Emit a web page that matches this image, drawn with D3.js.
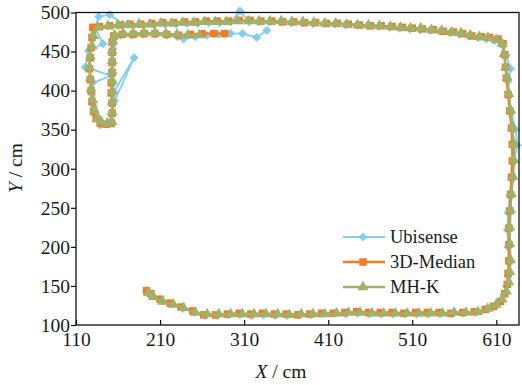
<!DOCTYPE html>
<html>
<head>
<meta charset="utf-8">
<script src="https://cdn.jsdelivr.net/npm/d3@7"></script>
<style>
  body { margin: 0; background: #fff; }
  svg { font-family: "Liberation Serif", "Times New Roman", serif; }
</style>
</head>
<body>
<svg width="522" height="385"></svg>
<script>
const xTicks = [110, 210, 310, 410, 510, 610];
const yTicks = [100, 150, 200, 250, 300, 350, 400, 450, 500];
const seriesNames = ['Ubisense', '3D-Median', 'MH-K'];

// Ubisense raw positions [x, y] in cm
const ubisense = [
    [195,143],[200,138],[212,131],[224,127],[237,121],[251,116],[264,112],[278,112],[291,113],[305,113],
    [319,112],[333,113],[347,112],[361,112],[375,113],[389,113],[403,114],[417,115],[431,114],[445,115],
    [459,114],[473,114],[487,114],[501,114],[515,114],[529,114],[543,114],[557,114],[571,115],[585,116],
    [597,120],[606,123],[614,130],[619,139],[622,150],
    [624,163],[625,180],[624,200],[623,222],[624,244],[626,266],[628,288],[631,310],[635,330],[633,350],
    [628,372],[625,393],[624,412],[627,428],[622,445],[616,460],
    [608,464],[598,466],[588,468],[577,470],[566,472],[555,474],[543,476],[531,477],[519,478],[507,479],
    [495,480],[483,481],[470,482],[457,483],[444,484],[431,484],[418,485],[405,486],[392,486],[379,487],
    [366,487],[353,488],[340,488],[327,488],[316,488],[305,502],[294,488],[281,487],[268,487],[255,486],
    [242,486],[229,485],[216,485],[203,484],[190,484],[178,483],[166,485],[150,497],[137,495],[133,480],
    [142,460],[125,451],[121,430],[152,419],[130,410],[129,395],[131,380],[136,366],[139,356],[147,357],
    [152,362],[156,387],[179,442],[155,398],[154,412],[153,426],[153,440],[154,454],[155,466],
    [163,471],[176,471],[190,472],[204,472],[218,471],[231,469],[238,466],[252,469],[266,471],[280,472],
    [294,473],[308,473],[325,468],[337,477]
];

// 3D-Median
const median3d = [
    [194,144],[199,140],[210,133],[222,128],[235,123],[249,118],[262,113],[276,113],[290,114],[304,115],
    [318,114],[332,115],[346,114],[360,114],[374,113],[388,114],[402,115],[416,115],[430,116],[444,117],
    [458,116],[472,116],[486,116],[500,115],[514,116],[528,116],[542,116],[556,115],[570,116],[584,117],
    [597,120],[607,124],[615,130],[620,140],[623,152],
    [624,166],[625,182],[625,203],[625,224],[626,246],[627,267],[628,289],[629,310],[629,331],[628,352],
    [626,374],[624,395],[622,416],[621,430],[620,446],[618,460],
    [612,466],[602,468],[592,469],[581,470],[570,473],[559,475],[547,476],[535,478],[522,479],[510,480],
    [498,481],[486,482],[473,483],[460,483],[447,484],[434,485],[421,486],[408,486],[395,487],[382,487],
    [369,488],[356,488],[343,489],[330,489],[317,490],[304,490],[291,489],[278,489],[265,489],[252,488],
    [239,488],[226,487],[213,487],[200,486],[187,485],[174,485],[162,484],[150,483],[138,482],[130,481],
    [129,468],[128,455],[127,442],[126,428],[127,414],[128,400],[129,386],[131,373],[134,364],[139,358],
    [146,357],[152,358],
    [153,371],[153,384],[152,397],[152,410],[153,423],[153,436],[153,449],[153,462],[155,470],
    [165,472],[178,472],[191,473],[204,473],[218,472],[232,471],[246,472],[260,473],[274,473],[287,473]
];

// MH-K
const mhk = [
    [196,141],[202,136],[213,130],[226,126],[238,122],[252,116],[266,114],[280,114],[294,114],[308,114],
    [322,114],[336,114],[350,114],[364,113],[378,114],[392,114],[406,114],[420,115],[434,116],[448,116],
    [462,115],[476,115],[490,115],[504,115],[518,115],[532,115],[546,115],[560,116],[574,116],[588,117],
    [600,121],[610,126],[617,133],[622,143],[625,155],
    [626,168],[627,183],[626,204],[626,225],[627,247],[628,268],[630,290],[631,311],[631,332],[629,353],
    [627,375],[625,396],[623,417],[621,430],[619,447],[617,460],
    [610,465],[600,468],[590,469],[579,471],[568,474],[557,475],[545,477],[533,478],[520,480],[508,480],
    [496,481],[484,482],[471,483],[458,484],[445,484],[432,485],[419,486],[406,486],[393,487],[380,488],
    [367,488],[354,489],[341,489],[328,489],[315,489],[302,489],[289,488],[276,488],[263,488],[250,487],
    [237,487],[224,486],[211,486],[198,485],[185,485],[172,484],[160,484],[148,483],[136,481],
    [131,470],[129,457],[127,444],[126,430],[127,416],[128,402],[130,388],[132,375],[135,364],[140,360],
    [147,358],[153,360],
    [153,373],[153,386],[153,399],[153,412],[153,425],[153,438],[153,451],[154,463],[156,471],
    [166,473],[178,473],[191,474],[204,474],[217,473],[230,472],[243,471],[257,471]
];

const series = [
    { name: seriesNames[0], data: ubisense, color: '#84cdf2', width: 1.8, symbol: 'diamond' },
    { name: seriesNames[1], data: median3d, color: '#f47b20', width: 2.3, symbol: 'square' },
    { name: seriesNames[2], data: mhk, color: '#a0b169', width: 2.3, symbol: 'triangle' },
];

const plotLeft = 76, plotRight = 519, plotTop = 12.5, plotBottom = 325;

const svg = d3.select('svg');

const xScale = d3.scaleLinear()
    .domain([110, 637])
    .range([plotLeft, plotRight]);
const yScale = d3.scaleLinear()
    .domain([100, 500])
    .range([plotBottom, plotTop]);

function symbolPath(kind) {
    if (kind === 'diamond') return d3.symbol(d3.symbolSquare, 40)();
    if (kind === 'square') return d3.symbol(d3.symbolSquare, 56)();
    return d3.symbol(d3.symbolTriangle, 52)();
}

const line = d3.line()
    .x(d => xScale(d[0]))
    .y(d => yScale(d[1]));

// lines + markers
series.forEach(s => {
    const g = svg.append('g');
    g.append('path')
        .datum(s.data)
        .attr('fill', 'none')
        .attr('stroke', s.color)
        .attr('stroke-width', s.width)
        .attr('stroke-linejoin', 'round')
        .attr('d', line);
    g.selectAll('.mark')
        .data(s.data)
        .enter()
        .append('path')
        .attr('d', symbolPath(s.symbol))
        .attr('transform', d => `translate(${xScale(d[0])},${yScale(d[1])})` + (s.symbol === 'diamond' ? ' rotate(45)' : ''))
        .attr('fill', s.color);
});

// x-axis
const xAxis = svg.append('g')
    .attr('transform', `translate(0, ${plotBottom})`)
    .call(d3.axisBottom(xScale).tickValues(xTicks).tickSizeInner(-5).tickSizeOuter(0).tickPadding(7));
xAxis.select('.domain').remove();

// y-axis
const yAxis = svg.append('g')
    .attr('transform', `translate(${plotLeft}, 0)`)
    .call(d3.axisLeft(yScale).tickValues(yTicks).tickSizeInner(5).tickSizeOuter(0).tickPadding(1));
yAxis.select('.domain').remove();

svg.selectAll('.tick text')
    .attr('font-family', '"Liberation Serif", serif')
    .attr('font-size', 19.5)
    .attr('fill', '#1a1a1a');
svg.selectAll('.tick line')
    .attr('stroke', '#111')
    .attr('stroke-width', 1.2);

// frame
svg.append('rect')
    .attr('x', plotLeft)
    .attr('y', plotTop)
    .attr('width', plotRight - plotLeft)
    .attr('height', plotBottom - plotTop)
    .attr('fill', 'none')
    .attr('stroke', '#111')
    .attr('stroke-width', 1.3);

// axis titles
const xTitle = svg.append('text')
    .attr('x', 281)
    .attr('y', 378)
    .attr('text-anchor', 'middle')
    .attr('font-size', 19.5)
    .attr('fill', '#1a1a1a');
xTitle.append('tspan').attr('font-style', 'italic').text('X');
xTitle.append('tspan').text(' / cm');

const yTitle = svg.append('text')
    .attr('transform', 'translate(22, 168) rotate(-90)')
    .attr('text-anchor', 'middle')
    .attr('font-size', 19.5)
    .attr('fill', '#1a1a1a');
yTitle.append('tspan').attr('font-style', 'italic').text('Y');
yTitle.append('tspan').text(' / cm');

// legend
const legend = svg.append('g');
series.forEach((s, i) => {
    const y = 237 + i * 25;
    legend.append('line')
        .attr('x1', 343).attr('x2', 385)
        .attr('y1', y).attr('y2', y)
        .attr('stroke', s.color)
        .attr('stroke-width', s.width);
    legend.append('path')
        .attr('d', symbolPath(s.symbol))
        .attr('transform', `translate(363,${y})` + (s.symbol === 'diamond' ? ' rotate(45)' : ''))
        .attr('fill', s.color);
    legend.append('text')
        .attr('x', 390)
        .attr('y', y)
        .attr('dy', '0.33em')
        .attr('font-size', 18.5)
        .attr('fill', '#1a1a1a')
        .text(s.name);
});
</script>
</body>
</html>
